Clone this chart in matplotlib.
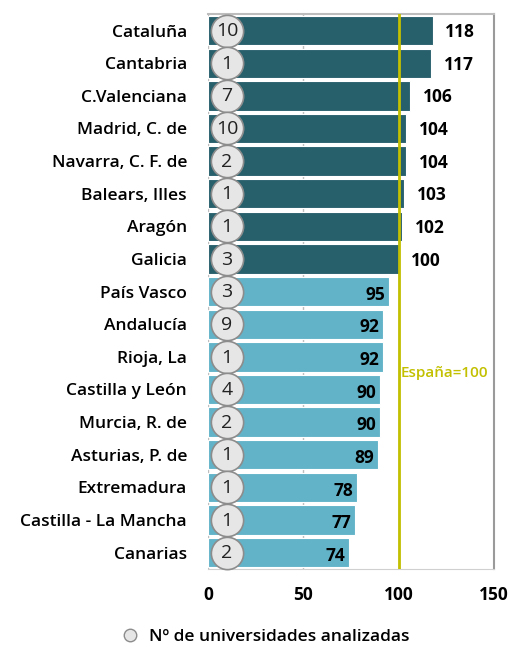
import matplotlib
matplotlib.use("Agg")
import matplotlib.pyplot as plt
from matplotlib.lines import Line2D

regions = ["Cataluña", "Cantabria", "C.Valenciana", "Madrid, C. de", "Navarra, C. F. de",
           "Balears, Illes", "Aragón", "Galicia", "País Vasco", "Andalucía", "Rioja, La",
           "Castilla y León", "Murcia, R. de", "Asturias, P. de", "Extremadura",
           "Castilla - La Mancha", "Canarias"]
values = [118, 117, 106, 104, 104, 103, 102, 100, 95, 92, 92, 90, 90, 89, 78, 77, 74]
n_univ = [10, 1, 7, 10, 2, 1, 1, 3, 3, 9, 1, 4, 2, 1, 1, 1, 2]
spain = 100
xticks = [0, 50, 100, 150]

plt.rcParams['font.family'] = ['Open Sans', 'DejaVu Sans']

dark = "#275f6b"
light = "#62b3c8"
line_col = "#c2c000"

fig = plt.figure(figsize=(5.12, 6.48), dpi=100)
ax = fig.add_axes([0.406, 0.122, 0.559, 0.856])

ypos = list(range(len(regions)))
colors = [dark if v >= spain else light for v in values]
ax.barh(ypos, values, height=0.9, color=colors, edgecolor="white", linewidth=0.8, zorder=2)

ax.set_xlim(0, 150)
ax.set_ylim(len(regions) - 0.5, -0.5)
ax.set_xticks(xticks)
ax.set_xticklabels([str(t) for t in xticks], fontsize=12.5, fontweight="bold")
ax.set_yticks(ypos)
ax.set_yticklabels(regions, fontsize=12.5, fontweight="semibold")
ax.tick_params(axis="y", length=0, pad=15)
ax.tick_params(axis="x", length=0, pad=12)
ax.grid(axis="x", color="#bdbdbd", linewidth=1, zorder=0)
ax.set_axisbelow(True)
for s in ["top", "right"]:
    ax.spines[s].set_color("#bdbdbd")
    ax.spines[s].set_linewidth(1.5)
ax.spines["right"].set_color("#9a9a9a")
ax.spines["bottom"].set_color("#d0d0d0")
ax.spines["left"].set_visible(False)

ax.axvline(spain, color=line_col, linewidth=2, zorder=3)
ax.text(spain + 1.0, 10.5, "España=100", color=line_col, fontsize=11, fontweight="semibold",
        va="center", ha="left")

for y, v, c in zip(ypos, values, colors):
    if v >= spain:
        ax.text(v + 6.5, y + 0.05, str(v), ha="left", va="center", fontsize=12.5, fontweight="bold", color="black", zorder=5)
    else:
        ax.text(v - 2, y + 0.1, str(v), ha="right", va="center", fontsize=12.5, fontweight="bold", color="black", zorder=5)

ax.scatter([10] * len(ypos), ypos, s=540, color="#e6e6e6", edgecolor="#8c8c8c", linewidth=1.2, zorder=4, clip_on=False)
for y, k in zip(ypos, n_univ):
    ax.text(10, y + 0.02, str(k), ha="center", va="center", fontsize=14, color="#222222", zorder=6)

handle = Line2D([], [], marker="o", linestyle="none", markersize=9, markerfacecolor="#e6e6e6",
                markeredgecolor="#8c8c8c")
fig.legend([handle], ["Nº de universidades analizadas"], loc="center", bbox_to_anchor=(0.51, 0.017),
           frameon=False, prop={"weight": "semibold", "size": 12.5}, handletextpad=0.1)

fig.savefig("out.png", dpi=100)
